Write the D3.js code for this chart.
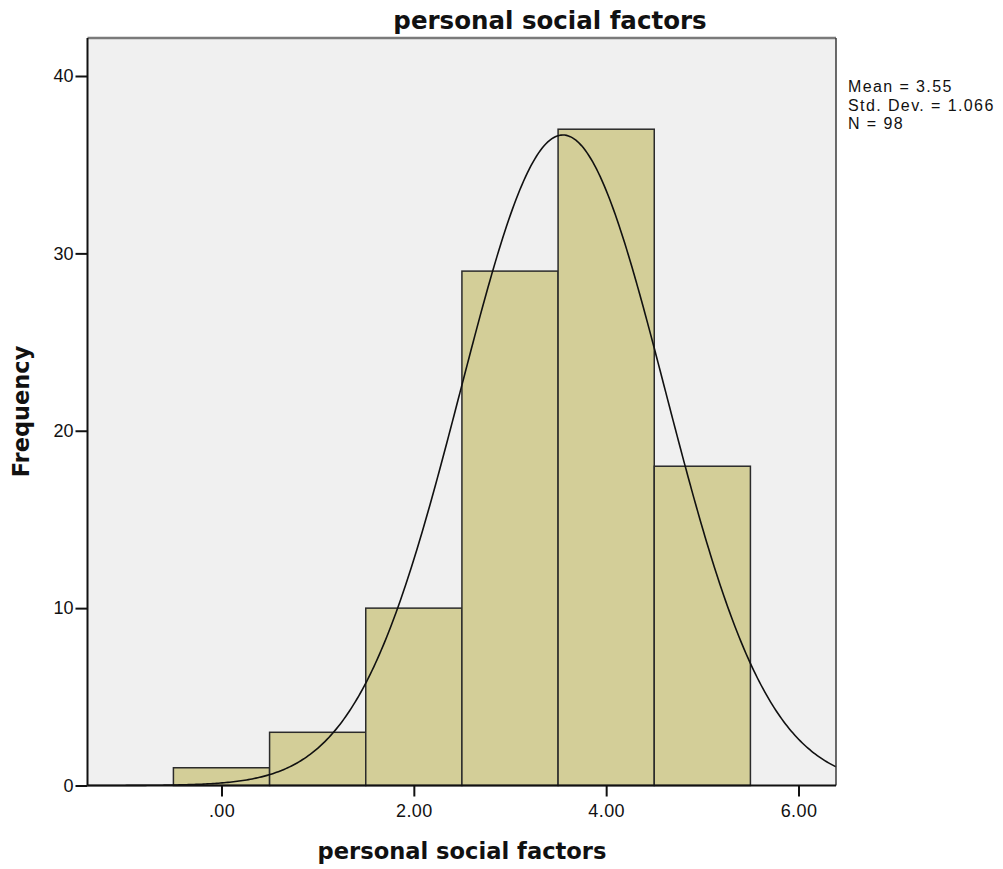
<!DOCTYPE html>
<html>
<head>
<meta charset="utf-8">
<script src="https://cdn.jsdelivr.net/npm/d3@7"></script>
<style>
  html, body { margin: 0; padding: 0; background: #fff; }
  svg { display: block; font-family: "Liberation Sans", Arial, sans-serif; }
</style>
</head>
<body>
<svg id="chart" width="1003" height="869"></svg>
<script>
// Histogram bins (lower edge) and counts
const binStarts = [-0.5, 0.5, 1.5, 2.5, 3.5, 4.5];
const binWidth = 1;
const counts = [1, 3, 10, 29, 37, 18];
const xTicks = [0, 2, 4, 6];
const yTicks = [0, 10, 20, 30, 40];
const stats = { mean: 3.55, sd: 1.066, n: 98 };
const statLines = ["Mean = 3.55", "Std. Dev. = 1.066", "N = 98"];
const titleText = "personal social factors";
const xLabel = "personal social factors";
const yLabel = "Frequency";

const svg = d3.select("#chart");
const plot = { left: 87.5, top: 38, right: 836, bottom: 785.5 };
const boldFont = "'DejaVu Sans', Verdana, sans-serif";

const x = d3.scaleLinear().domain([0, 6]).range([221.5, 798.5]);
const xExtent = [x.invert(plot.left), x.invert(plot.right)];
const y = d3.scaleLinear().domain([0, 40]).range([plot.bottom, 76]);

// Plot background
svg.append("rect")
  .attr("x", plot.left).attr("y", plot.top)
  .attr("width", plot.right - plot.left).attr("height", plot.bottom - plot.top)
  .attr("fill", "#f0f0f0");

// Bars
svg.append("g").selectAll("rect")
  .data(counts)
  .join("rect")
  .attr("x", (d, i) => x(binStarts[i]))
  .attr("y", d => y(d))
  .attr("width", (d, i) => x(binStarts[i] + binWidth) - x(binStarts[i]))
  .attr("height", d => y(0) - y(d))
  .attr("fill", "#d3ce98")
  .attr("stroke", "#2b2b2b")
  .attr("stroke-width", 1.5);

// Normal curve scaled to counts
const pdf = v => stats.n * binWidth / (stats.sd * Math.sqrt(2 * Math.PI)) *
  Math.exp(-0.5 * Math.pow((v - stats.mean) / stats.sd, 2));
const curvePts = d3.range(0, 401).map(i => xExtent[0] + (xExtent[1] - xExtent[0]) * i / 400);
svg.append("path")
  .datum(curvePts)
  .attr("fill", "none")
  .attr("stroke", "#111")
  .attr("stroke-width", 1.6)
  .attr("d", d3.line().x(v => x(v)).y(v => y(pdf(v))));

// Frame
svg.append("line").attr("x1", plot.left).attr("x2", plot.right)
  .attr("y1", plot.top).attr("y2", plot.top)
  .attr("stroke", "#7a7a7a").attr("stroke-width", 2.5);
svg.append("line").attr("x1", plot.right).attr("x2", plot.right)
  .attr("y1", plot.top).attr("y2", plot.bottom)
  .attr("stroke", "#3a3a3a").attr("stroke-width", 1.5);

// Y axis
const yAxis = svg.append("g")
  .attr("transform", `translate(${plot.left},0)`)
  .call(d3.axisLeft(y).tickValues(yTicks).tickSize(12).tickPadding(2).tickFormat(d3.format("d")));
yAxis.select(".domain").attr("stroke", "#111").attr("stroke-width", 2)
  .attr("d", `M0,${plot.top}V${plot.bottom}`);
yAxis.selectAll(".tick line").attr("stroke", "#111").attr("stroke-width", 2);
yAxis.selectAll(".tick text").attr("font-size", 18).attr("fill", "#111")
  .attr("font-family", "Liberation Sans, Arial, sans-serif");

// X axis
const xAxis = svg.append("g")
  .attr("transform", `translate(0,${plot.bottom})`)
  .call(d3.axisBottom(x).tickValues(xTicks).tickSize(11).tickPadding(8)
    .tickFormat(d => d === 0 ? ".00" : d3.format(".2f")(d)));
xAxis.select(".domain").attr("stroke", "#111").attr("stroke-width", 2)
  .attr("d", `M${plot.left},0H${plot.right}`);
xAxis.selectAll(".tick line").attr("stroke", "#111").attr("stroke-width", 2);
xAxis.selectAll(".tick text").attr("font-size", 18).attr("fill", "#111")
  .attr("letter-spacing", 0.4)
  .attr("font-family", "Liberation Sans, Arial, sans-serif");

// Title
svg.append("text")
  .attr("x", 550).attr("y", 29)
  .attr("text-anchor", "middle")
  .attr("font-family", boldFont)
  .attr("font-size", 24.5).attr("font-weight", "bold").attr("fill", "#111")
  .text(titleText);

// Axis titles
svg.append("text")
  .attr("x", 462).attr("y", 859)
  .attr("text-anchor", "middle")
  .attr("font-family", boldFont)
  .attr("font-size", 22.6).attr("font-weight", "bold").attr("fill", "#111")
  .text(xLabel);
svg.append("text")
  .attr("transform", "translate(29,411.5) rotate(-90)")
  .attr("text-anchor", "middle")
  .attr("font-family", boldFont)
  .attr("font-size", 22.5).attr("font-weight", "bold").attr("fill", "#111")
  .text(yLabel);

// Summary statistics
svg.append("g").selectAll("text")
  .data(statLines)
  .join("text")
  .attr("x", 848).attr("y", (d, i) => 92 + i * 18.5)
  .attr("font-size", 16).attr("letter-spacing", 1.4).attr("fill", "#111")
  .text(d => d);
</script>
</body>
</html>
